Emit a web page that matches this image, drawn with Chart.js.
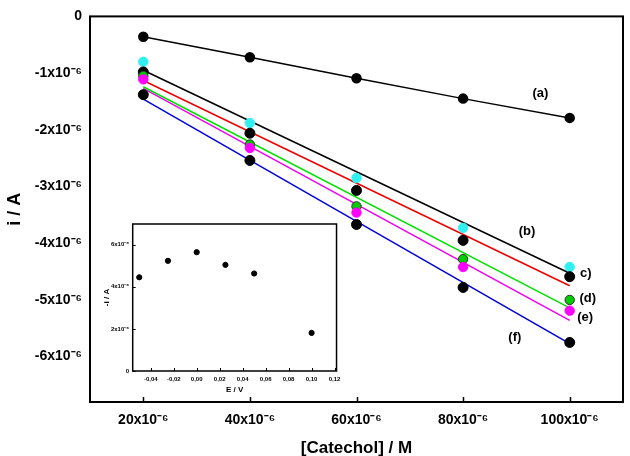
<!DOCTYPE html>
<html><head><meta charset="utf-8">
<script src="https://cdn.jsdelivr.net/npm/chart.js@4"></script>
<style>
html,body{margin:0;padding:0;background:#fff;}
#wrap{position:relative;width:630px;height:456px;overflow:hidden;}
#main{position:absolute;left:0;top:0;}
#inset{position:absolute;left:95px;top:215px;}
</style></head><body>
<div id="wrap"><canvas id="main" width="630" height="456"></canvas><canvas id="inset" width="250" height="182"></canvas></div>
<script>
// ---- main chart data (x in 10^-6 M, y in 10^-6 A) ----
const catechol = [20, 40, 60, 80, 100];
const seriesA = [-0.36, -0.72, -1.09, -1.45, -1.79];
const seriesB = [-0.80, -1.88, -2.85, -3.73, -4.42];
const seriesC = [-0.98, -2.06, -3.07, -3.95, -4.59];
const seriesD = [-1.05, -2.26, -3.35, -4.28, -5.00];
const seriesE = [-1.11, -2.32, -3.46, -4.42, -5.19];
const seriesF = [-1.38, -2.54, -3.67, -4.78, -5.75];
const fitX = [20, 100];
const fitB = [-0.95, -4.53];
const fitC = [-1.13, -4.75];
const fitD = [-1.24, -5.14];
const fitE = [-1.27, -5.36];
const fitF = [-1.46, -5.77];
const xTicks = [20, 40, 60, 80, 100];
const yTicks = [0, -1, -2, -3, -4, -5, -6];
const curveLabels = ['(a)', '(b)', 'c)', '(d)', '(e)', '(f)'];
const labelX = [94.5, 92.0, 103.0, 103.4, 102.9, 89.7];
const labelY = [-1.358, -3.80, -4.526, -4.98, -5.305, -5.667];
// ---- inset data (E in V, -i in 10^-6 A) ----
const potential = [-0.05, -0.025, 0.0, 0.025, 0.05, 0.10];
const insetCurrent = [4.45, 5.23, 5.64, 5.04, 4.63, 1.81];
const insetXTicks = [-0.04, -0.02, 0.0, 0.02, 0.04, 0.06, 0.08, 0.10, 0.12];
const insetYTicks = [0, 2, 4, 6];

const SUP = '\u207B\u2076';
const FONT = "'Liberation Sans', Arial, sans-serif";
const pts = (xs, ys) => xs.map((x, i) => ({x: x, y: ys[i]}));

const framePlugin = {
  id: 'frame',
  afterDraw(chart, args, o) {
    const {ctx, chartArea: a, scales} = chart;
    ctx.save();
    ctx.strokeStyle = '#000';
    ctx.lineWidth = o.lw;
    ctx.strokeRect(a.left, a.top, a.right - a.left, a.bottom - a.top);
    ctx.lineWidth = o.tw;
    scales.x.ticks.forEach(t => {
      const px = Math.round(scales.x.getPixelForValue(t.value)) + 0.5;
      ctx.beginPath(); ctx.moveTo(px, a.bottom); ctx.lineTo(px, a.bottom - o.tl); ctx.stroke();
    });
    if (o.yt) {
      scales.y.ticks.forEach(t => {
        const py = Math.round(scales.y.getPixelForValue(t.value)) + 0.5;
        ctx.beginPath(); ctx.moveTo(a.left, py); ctx.lineTo(a.left + o.tl, py); ctx.stroke();
      });
    }
    ctx.restore();
  }
};

const curveLabelPlugin = {
  id: 'curveLabels',
  afterDatasetsDraw(chart) {
    const {ctx, scales} = chart;
    ctx.save();
    ctx.fillStyle = '#000';
    ctx.font = "bold 13px " + FONT;
    ctx.textAlign = 'center';
    ctx.textBaseline = 'middle';
    curveLabels.forEach((t, i) => {
      ctx.fillText(t, scales.x.getPixelForValue(labelX[i]), scales.y.getPixelForValue(labelY[i]));
    });
    ctx.restore();
  }
};

const marker = (data, fill, border, r, order) => ({
  data: data, showLine: false, pointRadius: r, pointHoverRadius: r,
  pointBackgroundColor: fill, pointBorderColor: border, pointBorderWidth: 1, order: order
});
const fitLine = (ys, color) => ({
  data: pts(fitX, ys), showLine: true, borderColor: color, borderWidth: 1.5,
  pointRadius: 0, order: 10
});

new Chart(document.getElementById('main'), {
  type: 'scatter',
  data: {
    datasets: [
      {data: pts(catechol, seriesA), showLine: true, borderColor: '#000', borderWidth: 1.5,
       pointRadius: 4.5, pointBackgroundColor: '#000', pointBorderColor: '#000', order: 1},
      fitLine(fitB, '#000000'),
      fitLine(fitC, '#ee0000'),
      fitLine(fitD, '#00e000'),
      fitLine(fitE, '#ee00ee'),
      fitLine(fitF, '#0000dd'),
      marker(pts(catechol, seriesB), '#30f0f0', '#30f0f0', 4.7, 6),
      marker(pts(catechol, seriesC), '#000', '#000', 5, 5),
      marker(pts(catechol, seriesD), '#00cc00', '#333', 4.7, 4),
      marker(pts(catechol, seriesE), '#ff00ff', '#ff00ff', 4.7, 3),
      marker(pts(catechol, seriesF), '#000', '#000', 5, 2)
    ]
  },
  options: {
    responsive: false, animation: false, devicePixelRatio: 1,
    layout: {padding: {top: 14, right: 7, left: 0, bottom: 0}},
    plugins: {legend: {display: false}, tooltip: {enabled: false},
      frame: {lw: 2, tw: 1.5, tl: 5, yt: false}},
    scales: {
      x: {type: 'linear', min: 10, max: 110,
        afterBuildTicks: s => { s.ticks = xTicks.map(v => ({value: v})); },
        afterFit: s => { s.height = 54; },
        grid: {display: false, drawTicks: false}, border: {display: false},
        ticks: {padding: 10, color: '#000', maxRotation: 0, autoSkip: false,
          font: {family: FONT, size: 14, weight: 'bold'},
          callback: v => v + 'x10' + SUP},
        title: {display: true, text: '[Catechol] / M', color: '#000',
          font: {family: FONT, size: 17, weight: 'bold'}, padding: {top: 0, bottom: -3}}
      },
      y: {type: 'linear', min: -6.8, max: 0,
        afterBuildTicks: s => { s.ticks = yTicks.map(v => ({value: v})); },
        afterFit: s => { s.width = 90; },
        grid: {display: false, drawTicks: false}, border: {display: false},
        ticks: {padding: 8, color: '#000', autoSkip: false,
          font: {family: FONT, size: 14, weight: 'bold'},
          callback: v => v === 0 ? '0' : v + 'x10' + SUP},
        title: {display: true, text: 'i / A', color: '#000',
          font: {family: FONT, size: 18, weight: 'bold'}, padding: {top: 4.5, bottom: 0}}
      }
    }
  },
  plugins: [framePlugin, curveLabelPlugin]
});

new Chart(document.getElementById('inset'), {
  type: 'scatter',
  data: {datasets: [{data: pts(potential, insetCurrent), pointRadius: 2.6,
    pointBackgroundColor: '#000', pointBorderColor: '#000', showLine: false}]},
  options: {
    responsive: false, animation: false, devicePixelRatio: 1,
    layout: {padding: {top: 9, right: 8.3, left: 0, bottom: 0}},
    plugins: {legend: {display: false}, tooltip: {enabled: false},
      frame: {lw: 1.5, tw: 1, tl: 3, yt: true}},
    scales: {
      x: {type: 'linear', min: -0.0557, max: 0.1217,
        afterBuildTicks: s => { s.ticks = insetXTicks.map(v => ({value: v})); },
        afterFit: s => { s.height = 26; },
        grid: {display: false, drawTicks: false}, border: {display: false},
        ticks: {padding: 4.5, color: '#000', maxRotation: 0, autoSkip: false,
          font: {family: FONT, size: 6, weight: 'bold'},
          callback: v => v.toFixed(2).replace('.', ',')},
        title: {display: true, text: 'E / V', color: '#000',
          font: {family: FONT, size: 8, weight: 'bold'}, padding: {top: 0, bottom: 2.2}}
      },
      y: {type: 'linear', min: 0, max: 6.98,
        afterBuildTicks: s => { s.ticks = insetYTicks.map(v => ({value: v})); },
        afterFit: s => { s.width = 37.7; },
        grid: {display: false, drawTicks: false}, border: {display: false},
        ticks: {padding: 3.7, color: '#000', autoSkip: false,
          font: {family: FONT, size: 6, weight: 'bold'},
          callback: v => v === 0 ? '0' : v + 'x10' + SUP},
        title: {display: true, text: '-i / A', color: '#000',
          font: {family: FONT, size: 8, weight: 'bold'}, padding: {top: 6.9, bottom: 0}}
      }
    }
  },
  plugins: [framePlugin]
});
</script>
</body></html>
